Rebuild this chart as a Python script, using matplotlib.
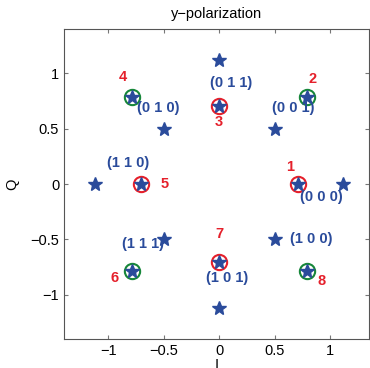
import matplotlib
matplotlib.use("Agg")
import matplotlib.pyplot as plt

# constellation points (stars)
star_I = [0.0, 0.0, 1.12, -1.12, 0.5, -0.5, 0.5, -0.5,
          0.707, 0.79, 0.0, -0.79, -0.707, -0.79, 0.0, 0.79]
star_Q = [1.12, -1.12, 0.0, 0.0, 0.5, 0.5, -0.5, -0.5,
          0.0, 0.79, 0.707, 0.79, 0.0, -0.79, -0.707, -0.79]

# circled points: numbered 1..8
circ_I = [0.707, 0.79, 0.0, -0.79, -0.707, -0.79, 0.0, 0.79]
circ_Q = [0.0, 0.79, 0.707, 0.79, 0.0, -0.79, -0.707, -0.79]
circ_kind = ["red", "green", "red", "green", "red", "green", "red", "green"]

num_labels = ["1", "2", "3", "4", "5", "6", "7", "8"]
num_I = [0.64, 0.84, 0.0, -0.87, -0.49, -0.94, 0.0, 0.92]
num_Q = [0.15, 0.95, 0.56, 0.97, 0.0, -0.85, -0.45, -0.88]

bit_labels = ["(0 0 0)", "(0 0 1)", "(0 1 1)", "(0 1 0)",
              "(1 1 0)", "(1 1 1)", "(1 0 1)", "(1 0 0)"]
bit_I = [0.92, 0.67, 0.11, -0.55, -0.82, -0.69, 0.07, 0.83]
bit_Q = [-0.12, 0.69, 0.91, 0.69, 0.19, -0.54, -0.85, -0.50]

BLUE = "#2A4B9B"
RED = "#E5202B"
GREEN = "#17873A"

plt.rcParams['font.family'] = ['Liberation Sans', 'DejaVu Sans']

fig = plt.figure(figsize=(3.70, 3.68), dpi=100)
ax = fig.add_axes([0.173, 0.079, 0.824, 0.842])

ax.plot(star_I, star_Q, linestyle="none", marker="*", markersize=10,
        color=BLUE, markeredgecolor=BLUE, zorder=3)
for x, y, k in zip(circ_I, circ_Q, circ_kind):
    c = RED if k == "red" else GREEN
    ax.plot([x], [y], linestyle="none", marker="o", markersize=11,
            markerfacecolor="none", markeredgecolor=c, markeredgewidth=1.5, zorder=2)

for t, x, y in zip(num_labels, num_I, num_Q):
    ax.text(x, y, t, color=RED, fontsize=10.5, fontweight="bold",
            ha="center", va="center")
for t, x, y in zip(bit_labels, bit_I, bit_Q):
    ax.text(x, y, t, color=BLUE, fontsize=10.5, fontweight="bold",
            ha="center", va="center")

ax.set_xlim(-1.4, 1.35)
ax.set_ylim(-1.4, 1.4)
ax.set_xticks([-1, -0.5, 0, 0.5, 1])
ax.set_yticks([-1, -0.5, 0, 0.5, 1])
ax.set_xticklabels(["\u22121", "\u22120.5", "0", "0.5", "1"])
ax.set_yticklabels(["\u22121", "\u22120.5", "0", "0.5", "1"])
ax.tick_params(direction="in", top=True, right=True, labelsize=10.5,
               length=3, color="#777777")
for s in ax.spines.values():
    s.set_color("#555555")
    s.set_linewidth(0.8)

ax.set_xlabel("I", fontsize=10.5, labelpad=0)
ax.set_ylabel("Q", fontsize=10.5, labelpad=8)
ax.set_title("y\u2212polarization", fontsize=10.5, pad=8)

fig.savefig("out.png", dpi=100)
